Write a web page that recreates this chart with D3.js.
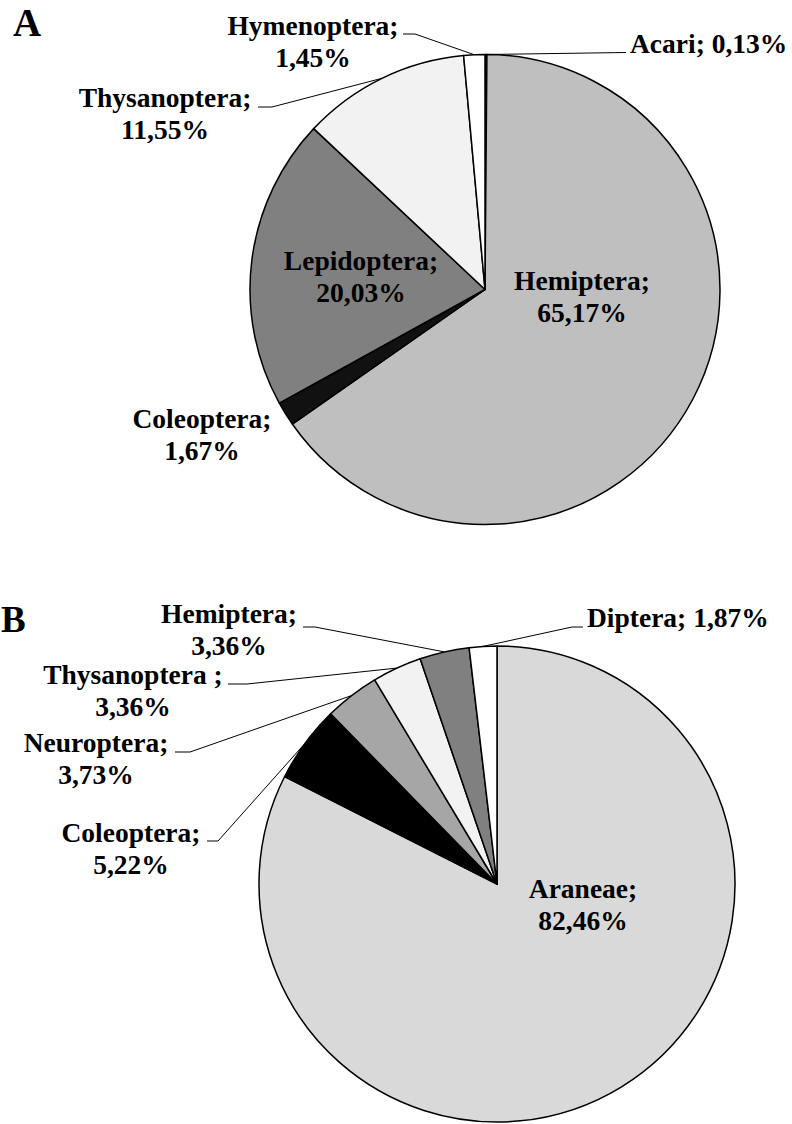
<!DOCTYPE html>
<html>
<head>
<meta charset="utf-8">
<script src="https://cdn.jsdelivr.net/npm/d3@7"></script>
<style>
  body { margin: 0; background: #fff; }
</style>
</head>
<body>
<div id="chart-area"></div>
<script>
// Panel A
const ordersA = ["Acari", "Hemiptera", "Coleoptera", "Lepidoptera", "Thysanoptera", "Hymenoptera"];
const valuesA = [0.13, 65.17, 1.67, 20.03, 11.55, 1.45];
const coloursA = ["#000000", "#bfbfbf", "#111111", "#808080", "#f2f2f2", "#ffffff"];

// Panel B
const ordersB = ["Araneae", "Coleoptera", "Neuroptera", "Thysanoptera ", "Hemiptera", "Diptera"];
const valuesB = [82.46, 5.22, 3.73, 3.36, 3.36, 1.87];
const coloursB = ["#d9d9d9", "#000000", "#a6a6a6", "#f2f2f2", "#808080", "#ffffff"];

// Label placement (x, first baseline, anchor, one or two lines, leader: [end x, elbow x, y])
const layoutA = [
    { x: 630, y: 53, anchor: "start", oneLine: true, leader: [626, 626, 52.5] },
    { x: 582, y: 290, anchor: "middle" },
    { x: 202, y: 428, anchor: "middle" },
    { x: 361, y: 270, anchor: "middle" },
    { x: 165, y: 107, anchor: "middle", leader: [258, 272, 107] },
    { x: 313, y: 35, anchor: "middle", leader: [403, 415, 34] }
];
const layoutB = [
    { x: 583, y: 898, anchor: "middle" },
    { x: 131, y: 842, anchor: "middle", leader: [207, 218, 841] },
    { x: 96, y: 752, anchor: "middle", leader: [175, 190, 752] },
    { x: 133, y: 684, anchor: "middle", leader: [228, 247, 684] },
    { x: 229, y: 623, anchor: "middle", leader: [303, 315, 627] },
    { x: 587, y: 627, anchor: "start", oneLine: true, leader: [583, 572, 627] }
];

const width = 792;
const height = 1124;
const fontSize = 27.5;
const lineGap = 31.5;
const serif = "'Liberation Serif', 'Times New Roman', Times, serif";

const svg = d3.select("#chart-area")
    .append("svg")
    .attr("width", width)
    .attr("height", height);

const fmt = v => d3.format(".2f")(v).replace(".", ",") + "%";

function drawPie(names, values, colours, layout, cx, cy, r) {
    const data = names.map((n, i) => ({ name: n, value: values[i], colour: colours[i], pos: layout[i] }));

    const pie = d3.pie().sort(null).value(d => d.value);
    const arc = d3.arc().innerRadius(0).outerRadius(r);
    const arcs = pie(data);

    const g = svg.append("g")
        .attr("transform", `translate(${cx}, ${cy})`);

    g.selectAll("path")
        .data(arcs)
        .enter()
        .append("path")
        .attr("d", arc)
        .attr("fill", d => d.data.colour)
        .attr("stroke", "#000")
        .attr("stroke-width", 1.5)
        .attr("stroke-linejoin", "round");

    // Leader lines from the middle of each slice edge
    arcs.filter(d => d.data.pos.leader).forEach(d => {
        const mid = (d.startAngle + d.endAngle) / 2;
        const px = cx + r * Math.sin(mid);
        const py = cy - r * Math.cos(mid);
        const [ex, bx, ly] = d.data.pos.leader;
        svg.append("polyline")
            .attr("points", `${px},${py} ${bx},${ly} ${ex},${ly}`)
            .attr("fill", "none")
            .attr("stroke", "#000")
            .attr("stroke-width", 1);
    });

    // Labels
    arcs.forEach(d => {
        const p = d.data.pos;
        const t = svg.append("text")
            .attr("x", p.x)
            .attr("y", p.y)
            .attr("font-family", serif)
            .attr("font-weight", "bold")
            .attr("font-size", fontSize + "px")
            .attr("fill", "#000")
            .attr("text-anchor", p.anchor);
        if (p.oneLine) {
            t.text(`${d.data.name}; ${fmt(d.data.value)}`);
        } else {
            t.append("tspan").attr("x", p.x).text(`${d.data.name};`);
            t.append("tspan").attr("x", p.x).attr("dy", lineGap).text(fmt(d.data.value));
        }
    });
}

drawPie(ordersA, valuesA, coloursA, layoutA, 485, 289.5, 235);
drawPie(ordersB, valuesB, coloursB, layoutB, 497, 884, 238);

// Panel letters
svg.append("text").attr("x", 13).attr("y", 36)
    .attr("font-family", serif).attr("font-weight", "bold")
    .attr("font-size", "39px").text("A");
svg.append("text").attr("x", 1).attr("y", 632)
    .attr("font-family", serif).attr("font-weight", "bold")
    .attr("font-size", "37px").text("B");
</script>
</body>
</html>
